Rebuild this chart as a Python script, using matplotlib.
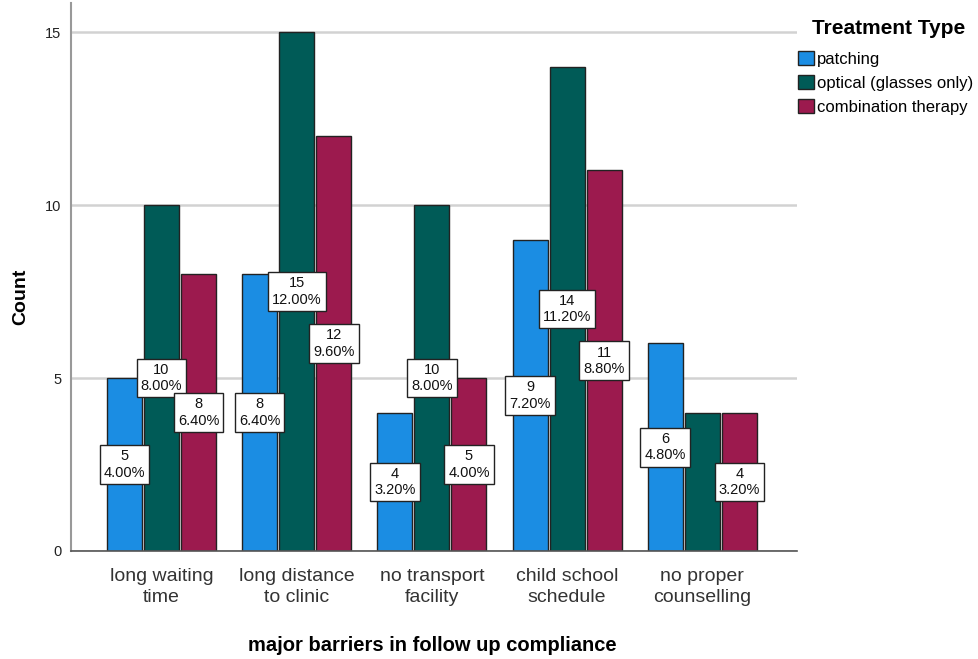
import matplotlib.pyplot as plt
import numpy as np

plt.rcParams['font.family'] = ['Liberation Sans', 'DejaVu Sans']

# data
barriers = ['long waiting\ntime', 'long distance\nto clinic', 'no transport\nfacility',
            'child school\nschedule', 'no proper\ncounselling']
treatments = ['patching', 'optical (glasses only)', 'combination therapy']
patching = [5, 8, 4, 9, 6]
optical = [10, 15, 10, 14, 4]
combination = [8, 12, 5, 11, 4]
# SPSS hid the overlapping label of optical / no proper counselling
show_label = [[True] * 5, [True, True, True, True, False], [True] * 5]

colors = ['#1b8de3', '#005b57', '#9c1a4e']
series = [patching, optical, combination]
total = sum(sum(s) for s in series)

fig = plt.figure(figsize=(9.79, 6.59), dpi=100)
ax = fig.add_axes([0.0725, 0.1639, 0.7415, 0.8315])

x = np.arange(len(barriers))
w = 0.259
step = 0.274
for i, (vals, col, name) in enumerate(zip(series, colors, treatments)):
    pos = x + (i - 1) * step
    ax.bar(pos, vals, width=w, color=col, edgecolor='#222222', linewidth=1.0,
           label=name, zorder=2)
    for j, v in enumerate(vals):
        if not show_label[i][j]:
            continue
        ax.text(pos[j], v / 2, f'{v}\n{v / total * 100:.2f}%', ha='center', va='center',
                fontsize=10.5, color='#111111', linespacing=1.22, zorder=4,
                bbox=dict(boxstyle='square,pad=0.28', facecolor='white',
                          edgecolor='#222222', linewidth=1.0))

ax.set_xlim(-0.67, 4.70)
ax.set_ylim(0, 15.84)
ax.set_yticks([0, 5, 10, 15])
ax.yaxis.grid(True, color='#d2d2d2', linewidth=1.8, zorder=0)
ax.set_axisbelow(True)
ax.tick_params(axis='y', length=0, labelsize=10.5, pad=7, colors='#222222')
ax.set_xticks(x)
ax.set_xticklabels(barriers, fontsize=14, color='#333333', linespacing=1.35)
ax.tick_params(axis='x', length=0, pad=12)

for s in ['top', 'right']:
    ax.spines[s].set_visible(False)
ax.spines['left'].set_color('#999999')
ax.spines['left'].set_linewidth(1.5)
ax.spines['bottom'].set_color('#555555')
ax.spines['bottom'].set_linewidth(1.2)

fig.text(0.0215, 0.55, 'Count', rotation='vertical', ha='center', va='center',
         fontsize=14, fontweight='bold')
fig.text(0.442, 0.021, 'major barriers in follow up compliance', ha='center', va='center',
         fontsize=14.5, fontweight='bold')

# legend title drawn separately so it sits indented like SPSS
fig.text(812 / 979, 1 - 28 / 659, 'Treatment Type', ha='left', va='center',
         fontsize=15, fontweight='bold')
leg = fig.legend(loc='upper left', bbox_to_anchor=(798 / 979, 1 - 51 / 659), frameon=False,
                 fontsize=12, handlelength=0.95, handleheight=0.95, handletextpad=0.2,
                 labelspacing=0.48, borderaxespad=0, borderpad=0)

plt.savefig('out.png', dpi=100)
